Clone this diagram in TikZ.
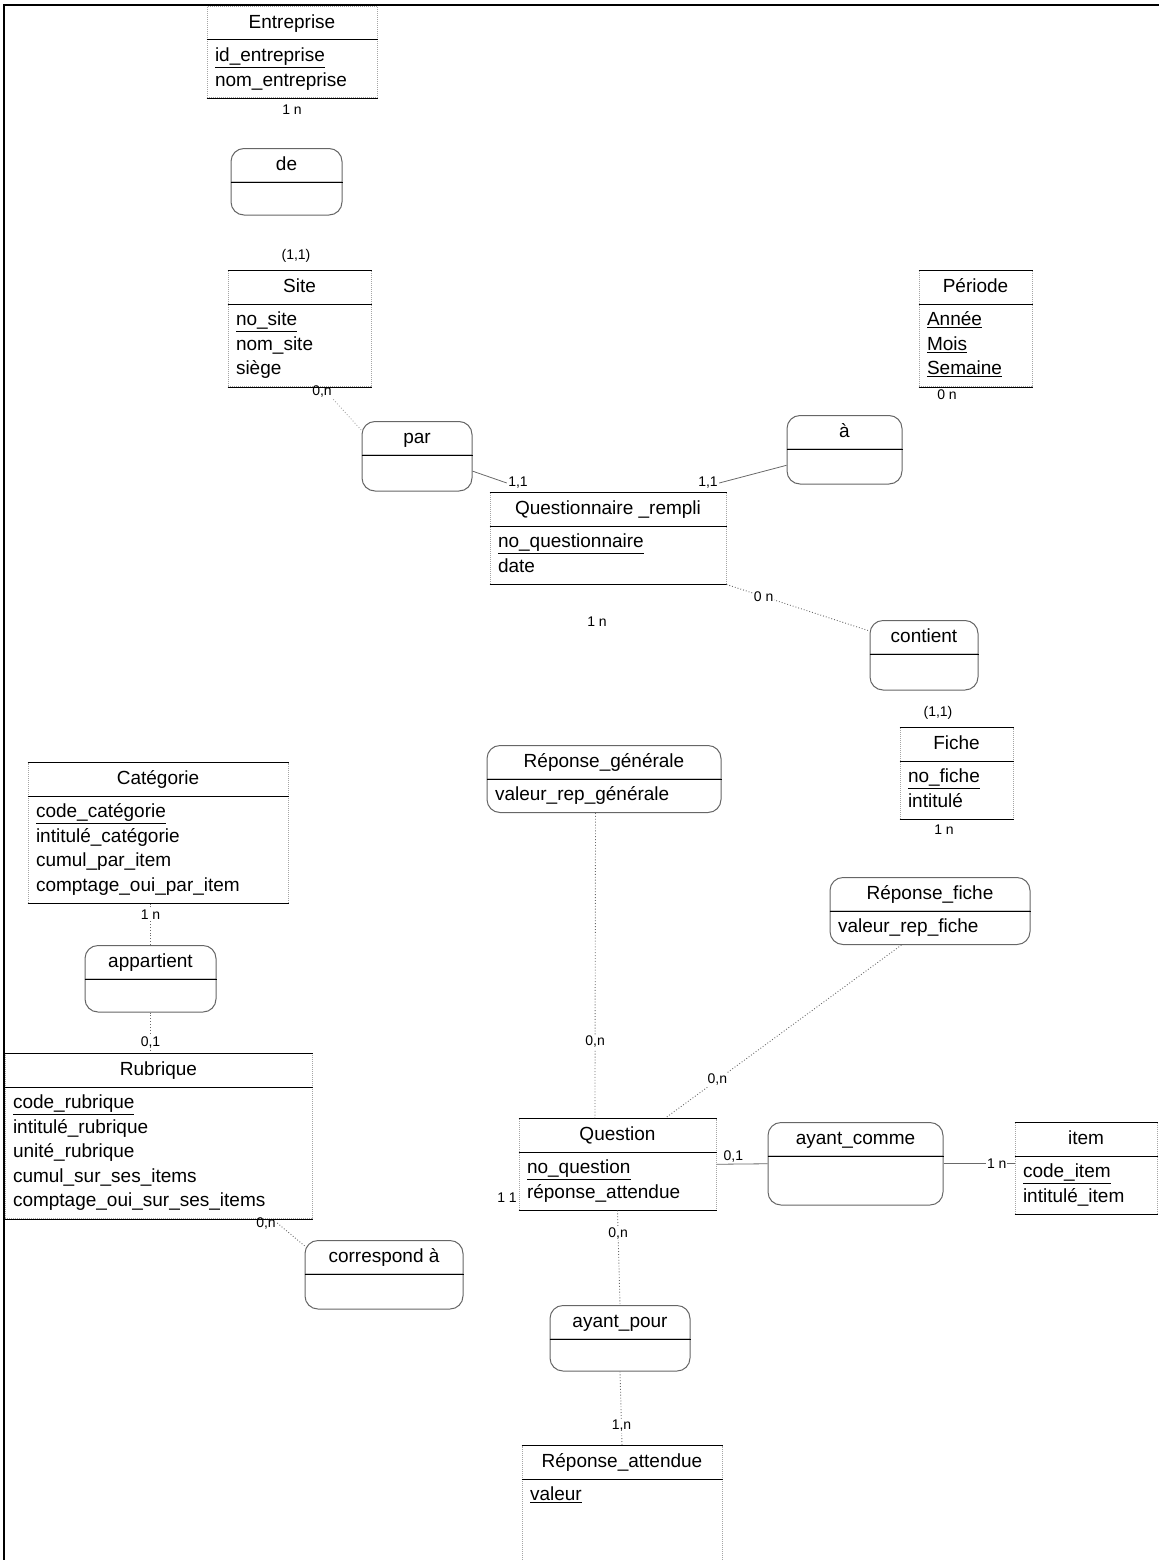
\documentclass[tikz,border=0pt]{standalone}
\usepackage{fontspec}
\setmainfont{Liberation Sans}
\usepackage{xcolor}
\usepackage{tikz}
\usetikzlibrary{shapes.multipart}
\definecolor{linkgray}{RGB}{105,105,105}
\definecolor{sidegray}{RGB}{165,165,165}
\tikzset{every picture/.style={line width=1pt}}

\begin{document}
\begin{tikzpicture}[x=1pt,y=-1pt,
 every node/.style={font=\fontsize{19}{24.5}\selectfont},
 entity/.style={rectangle split,rectangle split parts=2,
  rectangle split part align={center,left},
  anchor=north,inner xsep=8pt,inner ysep=4pt,
  draw=sidegray,densely dotted,
  append after command={
   (\tikzlastnode.north west) edge[solid,black] (\tikzlastnode.north east)
   (\tikzlastnode.text split west) edge[solid,black] (\tikzlastnode.text split east)
   (\tikzlastnode.south west) edge[solid,black] (\tikzlastnode.south east)}},
 relation/.style={rectangle split,rectangle split parts=2,
  rectangle split part align={center,left},
  anchor=north,inner xsep=8pt,inner ysep=4pt,
  rounded corners=13pt,draw=black!60,
  append after command={
   (\tikzlastnode.text split west) edge[black] (\tikzlastnode.text split east)}},
 card/.style={font=\fontsize{14}{16}\selectfont,inner sep=1pt},
 link/.style={draw=linkgray,line width=.8pt},
 dotlink/.style={draw=linkgray,line width=.9pt,dotted}]
 \useasboundingbox (0,0) rectangle (1159,1560);
 \draw[line width=1.3pt] (4,1560) -- (4,5) -- (1159,5);

 % entites
 \node[entity,minimum width=170pt] (ent) at (292,6) {\strut Entreprise
  \nodepart{two}\begin{tabular}{@{}l@{}}\underline{id\_entreprise}\\ nom\_entreprise\end{tabular}};
 \node[entity,minimum width=143pt] (site) at (299.5,270) {\strut Site
  \nodepart{two}\begin{tabular}{@{}l@{}}\underline{no\_site}\\ nom\_site\\ siège\end{tabular}};
 \node[entity,minimum width=113pt] (per) at (975.5,270) {\strut Période
  \nodepart{two}\begin{tabular}{@{}l@{}}\underline{Année}\\ \underline{Mois}\\ \underline{Semaine}\end{tabular}};
 \node[entity,minimum width=236pt] (qr) at (608,492) {\strut Questionnaire \_rempli
  \nodepart{two}\begin{tabular}{@{}l@{}}\underline{no\_questionnaire}\\ date\end{tabular}};
 \node[entity,minimum width=113pt] (fiche) at (956.5,727) {\strut Fiche
  \nodepart{two}\begin{tabular}{@{}l@{}}\underline{no\_fiche}\\ intitulé\end{tabular}};
 \node[entity,minimum width=260pt] (cat) at (158,762) {\strut Catégorie
  \nodepart{two}\begin{tabular}{@{}l@{}}\underline{code\_catégorie}\\ intitulé\_catégorie\\
  cumul\_par\_item\\ comptage\_oui\_par\_item\end{tabular}};
 \node[entity,minimum width=307pt] (rub) at (158.5,1053) {\strut Rubrique
  \nodepart{two}\begin{tabular}{@{}l@{}}\underline{code\_rubrique}\\ intitulé\_rubrique\\
  unité\_rubrique\\ cumul\_sur\_ses\_items\\ comptage\_oui\_sur\_ses\_items\end{tabular}};
 \node[entity,minimum width=197pt] (q) at (617.5,1118) {\strut Question
  \nodepart{two}\begin{tabular}{@{}l@{}}\underline{no\_question}\\ réponse\_attendue\end{tabular}};
 \node[entity,minimum width=142pt] (item) at (1086,1122) {\strut item
  \nodepart{two}\begin{tabular}{@{}l@{}}\underline{code\_item}\\ intitulé\_item\end{tabular}};
 \node[entity,minimum width=200pt] (ra) at (622,1445) {\strut Réponse\_attendue
  \nodepart{two}\begin{tabular}{@{}l@{}}\underline{valeur}\\ \\ \\ \\ \end{tabular}};

 % associations
 \node[relation,minimum width=111pt] (de) at (286.5,148) {\strut de \nodepart{two}\rule{0pt}{24pt}};
 \node[relation,minimum width=110pt] (par) at (417,421) {\strut par \nodepart{two}\rule{0pt}{27pt}};
 \node[relation,minimum width=115pt] (arel) at (844.5,415) {\strut à \nodepart{two}\rule{0pt}{26pt}};
 \node[relation,minimum width=108pt] (cont) at (924,620) {\strut contient \nodepart{two}\rule{0pt}{27pt}};
 \node[relation,minimum width=234pt] (rg) at (604,745) {\strut Réponse\_générale
  \nodepart{two}\strut valeur\_rep\_générale};
 \node[relation,minimum width=200pt] (rf) at (930,877) {\strut Réponse\_fiche
  \nodepart{two}\strut valeur\_rep\_fiche};
 \node[relation,minimum width=131pt] (app) at (150.5,945) {\strut appartient \nodepart{two}\rule{0pt}{24pt}};
 \node[relation,minimum width=158pt] (corr) at (384,1240) {\strut correspond à \nodepart{two}\rule{0pt}{26pt}};
 \node[relation,minimum width=175pt] (ac) at (855.5,1122) {\strut ayant\_comme \nodepart{two}\rule{0pt}{40pt}};
 \node[relation,minimum width=140pt] (ap) at (620,1305) {\strut ayant\_pour \nodepart{two}\rule{0pt}{23pt}};

 % cardinalites
 \node[card] (k1) at (292,110) {1 n};
 \node[card] (k2) at (296,256) {(1,1)};
 \node[card] (k3) at (322,392) {0,n};
 \node[card] (k4) at (947,395) {0 n};
 \node[card] (k5) at (518,483) {1,1};
 \node[card] (k6) at (708,483) {1,1};
 \node[card] (k7) at (597,622) {1 n};
 \node[card] (k8) at (938,713) {(1,1)};
 \node[card] (k9) at (944,830) {1 n};
 \node[card] (k10) at (266,1223) {0,n};
 \node[card] (k11) at (507,1198) {1 1};

 % liens
 \draw[dotlink,draw=black!35] (k3.south east) -- (par.155);
 \draw[link] (par.-15) -- (k5.west);
 \draw[link] (arel.195) -- (k6.east);
 \draw[dotlink] (qr.south east) -- node[card,fill=white,pos=.26] (k12) {0 n} (cont.156);
 \draw[dotlink] (app.north) -- node[card,fill=white,pos=.72] (k13) {1 n} (app.north |- cat.south);
 \draw[dotlink] (app.south) -- node[card,fill=white,pos=.75] (k14) {0,1} (app.south |- rub.north);
 \draw[dotlink] (k10.east) -- (corr.160);
 \draw[dotlink] (rg.-104) -- node[card,fill=white,pos=.75] (k15) {0,n} (q.116);
 \draw[dotlink] (rf.-130) -- node[card,fill=white,pos=.78] (k16) {0,n} (q.44);
 \draw[link] (q.east) -- node[card,anchor=south,pos=.33] (k17) {0,1} (ac.west);
 \draw[link] (ac.east) -- node[card,fill=white,pos=.75] (k18) {1 n} (ac.east -| item.west);
 \draw[dotlink] (q.south) -- node[card,fill=white,pos=.24] (k19) {0,n} (ap.north);
 \draw[dotlink] (ap.south) -- node[card,fill=white,pos=.74] (k20) {1,n} (ra.north);
\end{tikzpicture}
\end{document}
